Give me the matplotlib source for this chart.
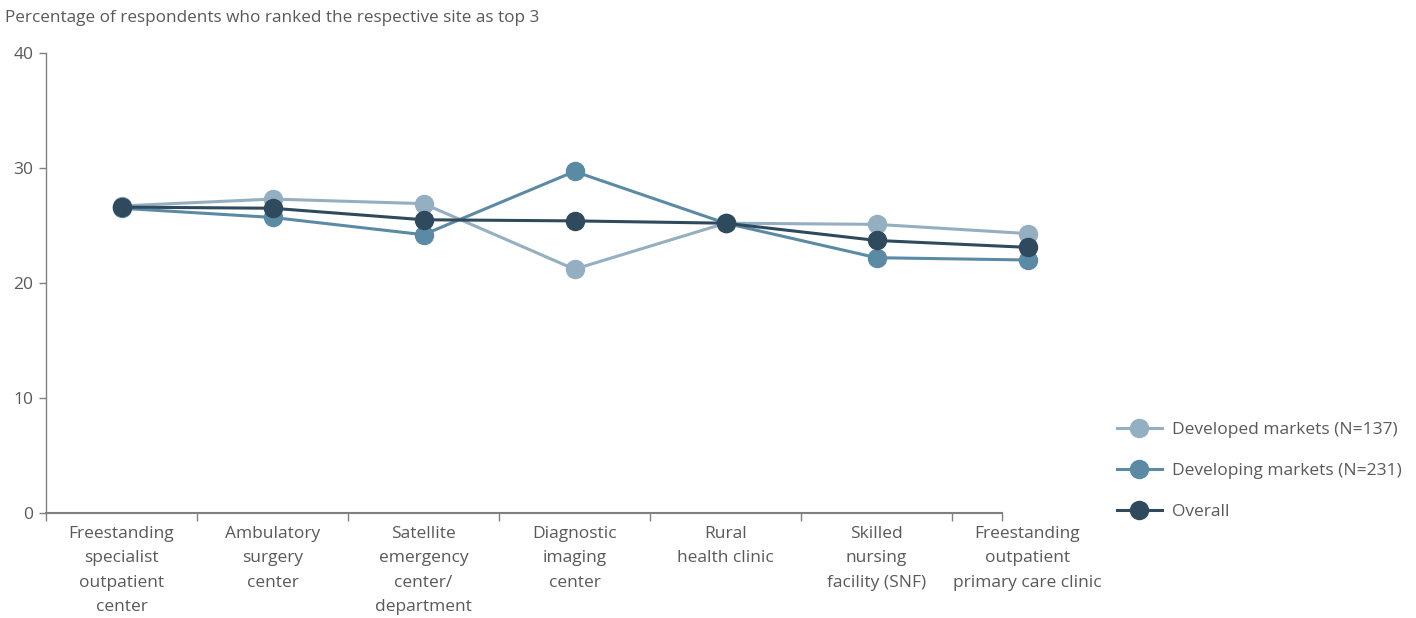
import matplotlib
matplotlib.use("Agg")
import matplotlib.pyplot as plt
from matplotlib.lines import Line2D

plt.rcParams['font.family'] = ['Open Sans', 'DejaVu Sans']

categories = [
    "Freestanding\nspecialist\noutpatient\ncenter",
    "Ambulatory\nsurgery\ncenter",
    "Satellite\nemergency\ncenter/\ndepartment",
    "Diagnostic\nimaging\ncenter",
    "Rural\nhealth clinic",
    "Skilled\nnursing\nfacility (SNF)",
    "Freestanding\noutpatient\nprimary care clinic",
]
developed = [26.7, 27.3, 26.9, 21.2, 25.2, 25.1, 24.3]
developing = [26.5, 25.7, 24.2, 29.7, 25.2, 22.2, 22.0]
overall = [26.6, 26.5, 25.5, 25.4, 25.2, 23.7, 23.1]
series_names = ["Developed markets (N=137)", "Developing markets (N=231)", "Overall"]
yticks = [0, 10, 20, 30, 40]
ylabel = "Percentage of respondents who ranked the respective site as top 3"

colors = ["#94afc1", "#5b8aa5", "#2f4a5c"]
text_color = "#595959"

fig = plt.figure(figsize=(14.16, 6.18), dpi=100)
ax = fig.add_axes([46/1416, 105/618, 1132.5/1416, 460/618])

x = list(range(len(categories)))
for vals, c, name in zip([developed, developing, overall], colors, series_names):
    ax.plot(x, vals, color=c, lw=2.2, marker='o', ms=13, label=name, zorder=3)

ax.set_xlim(-0.5, 7.0)
ax.set_ylim(0, 40)
ax.set_yticks(yticks)
ax.set_yticklabels([str(v) for v in yticks])

ax.set_xticks(x)
ax.set_xticklabels(categories, linespacing=1.72)
ax.set_xticks([i - 0.5 for i in range(len(categories))] + [5.83], minor=True)
ax.tick_params(axis='x', which='major', length=0, pad=9, labelsize=12.5, colors=text_color)
ax.tick_params(axis='x', which='minor', length=6, color="#808080", width=1)
ax.tick_params(axis='y', length=5, color="#808080", width=1, labelsize=12.5, colors=text_color, pad=4)
ax.tick_params(axis='y', colors="#808080", labelcolor=text_color)

for s in ['top', 'right']:
    ax.spines[s].set_visible(False)
ax.spines['left'].set_color("#808080")
ax.spines['bottom'].set_color("#808080")
ax.spines['bottom'].set_bounds(-0.5, 5.83)
ax.spines['left'].set_linewidth(1)
ax.spines['bottom'].set_linewidth(1.5)

fig.text(5/1416, 1 - 18/618, ylabel, fontsize=12.3, color=text_color, va='center', ha='left')

handles = [Line2D([0], [0], color=c, lw=2.2, marker='o', ms=13) for c in colors]
leg = fig.legend(handles, series_names, loc='center left', bbox_to_anchor=(1108/1416, 1 - 471/618),
                 frameon=False, fontsize=12.5, labelspacing=1.42, handlelength=2.6,
                 handletextpad=0.6, borderpad=0)
for t in leg.get_texts():
    t.set_color(text_color)

fig.savefig("out.png", dpi=100)
